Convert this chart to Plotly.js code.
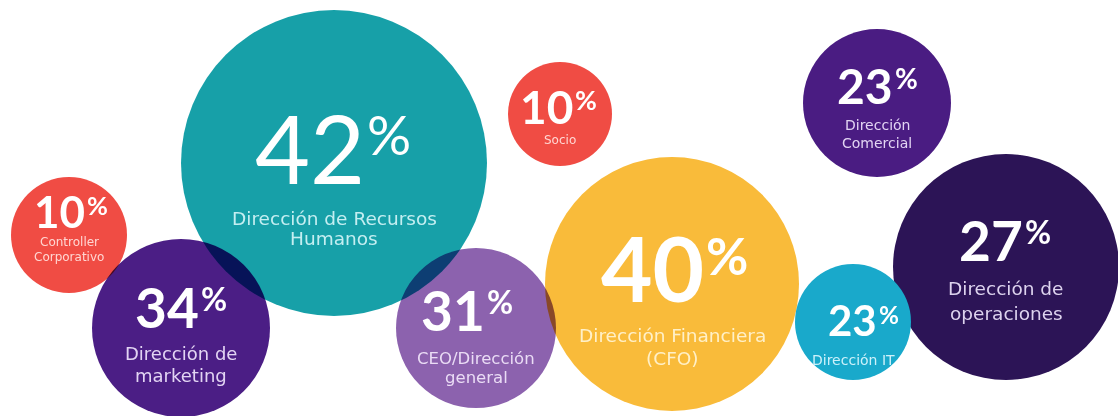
<!DOCTYPE html>
<html>
<head>
<meta charset="utf-8">
<script src="https://cdn.plot.ly/plotly-3.0.1.min.js"></script>
<style>
  html, body { margin: 0; padding: 0; background: #ffffff; }
  #chart { width: 1118px; height: 416px; }
</style>
</head>
<body>
<div id="chart"></div>
<script>
// ---- data ----
const categories = [
  "Dirección de Recursos<br>Humanos",
  "Controller<br>Corporativo",
  "Dirección de<br>marketing",
  "Socio",
  "CEO/Dirección<br>general",
  "Dirección Financiera<br>(CFO)",
  "Dirección<br>Comercial",
  "Dirección IT",
  "Dirección de<br>operaciones"
];
const values = [42, 10, 34, 10, 31, 40, 23, 23, 27];

// ---- layout of the bubbles (pixel space) ----
const cx = [334, 69, 181, 560, 476, 672, 877, 853, 1006];
const cy = [163, 235, 328, 114, 328, 284, 103, 322, 267];
const radius = [153, 58, 89, 52, 80, 127, 74, 58, 113];
const fills = ["#17a0a8", "#f04c44", "#4b1e85", "#f04c44", "#8c62ae", "#f9bb3a", "#4a1c82", "#19a9cb", "#2c1456"];
const blendMultiply = [true, true, true, true, true, true, true, false, true];
const labelColors = ["#c4eef1", "#ffd6d2", "#e2d4f3", "#ffd6d2", "#eadcf5", "#fff0c8", "#e2d4f3", "#cdf1fa", "#ddd3ee"];
// number styling: font size, vertical centre of digits, split x between digits and "%"
const numSize = [95, 44, 55, 46, 55, 89, 48, 42, 55];
const numWeight = [400, 700, 700, 700, 700, 700, 700, 700, 700];
const numY = [147, 211, 307, 106, 310, 267, 85, 320, 240];
const splitX = [366, 86, 200, 574, 486, 705, 894, 878, 1024];
// label styling: font size, first line centre, line spacing
const labSize = [18.5, 12, 18, 12, 16.5, 18.5, 14, 14, 18.5];
const labY0 = [218, 242, 353, 140, 358, 335, 125, 360, 288];
const labGap = [20.5, 15, 22, 0, 19, 23, 18, 0, 25];

const trace = {
  type: "scatter",
  mode: "markers",
  x: cx,
  y: cy,
  marker: {
    size: radius.map(r => 2 * r),
    sizemode: "diameter",
    color: fills,
    opacity: 1,
    line: { width: 0 }
  },
  hoverinfo: "skip",
  showlegend: false
};

const numFont = "Lato, 'Open Sans', sans-serif";
const labFont = "'DejaVu Sans', 'Open Sans', sans-serif";
const annotations = [];
values.forEach((v, i) => {
  annotations.push({
    x: splitX[i], y: numY[i], xref: "x", yref: "y",
    text: String(v),
    showarrow: false, xanchor: "right", yanchor: "middle", borderpad: 0,
    font: { family: numFont, size: numSize[i], color: "#ffffff", weight: numWeight[i] }
  });
  const cap = 0.72 * numSize[i];
  annotations.push({
    x: splitX[i], y: numY[i] - 0.19 * cap, xref: "x", yref: "y",
    text: "%",
    showarrow: false, xanchor: "left", yanchor: "middle", borderpad: 0,
    font: { family: numFont, size: 0.58 * numSize[i], color: "#ffffff", weight: numWeight[i] }
  });
  categories[i].split("<br>").forEach((line, k) => {
    annotations.push({
      x: cx[i], y: labY0[i] + k * labGap[i], xref: "x", yref: "y",
      text: line,
      showarrow: false, xanchor: "center", yanchor: "middle", borderpad: 0,
      font: { family: labFont, size: labSize[i], color: labelColors[i] }
    });
  });
});

const layout = {
  width: 1118, height: 416,
  margin: { l: 0, r: 0, t: 0, b: 0 },
  paper_bgcolor: "#ffffff",
  plot_bgcolor: "#ffffff",
  xaxis: { range: [0, 1118], visible: false, fixedrange: true },
  yaxis: { range: [416, 0], visible: false, fixedrange: true },
  annotations: annotations
};

Plotly.newPlot("chart", [trace], layout, { displayModeBar: false, staticPlot: true }).then(() => {
  const pts = Array.from(document.querySelectorAll(".scatterlayer path.point"));
  const onTop = [];
  pts.forEach((p, i) => {
    if (blendMultiply[i]) p.style.mixBlendMode = "multiply";
    else onTop.push(p);
  });
  onTop.forEach(p => p.parentNode.appendChild(p));
});
</script>
</body>
</html>
